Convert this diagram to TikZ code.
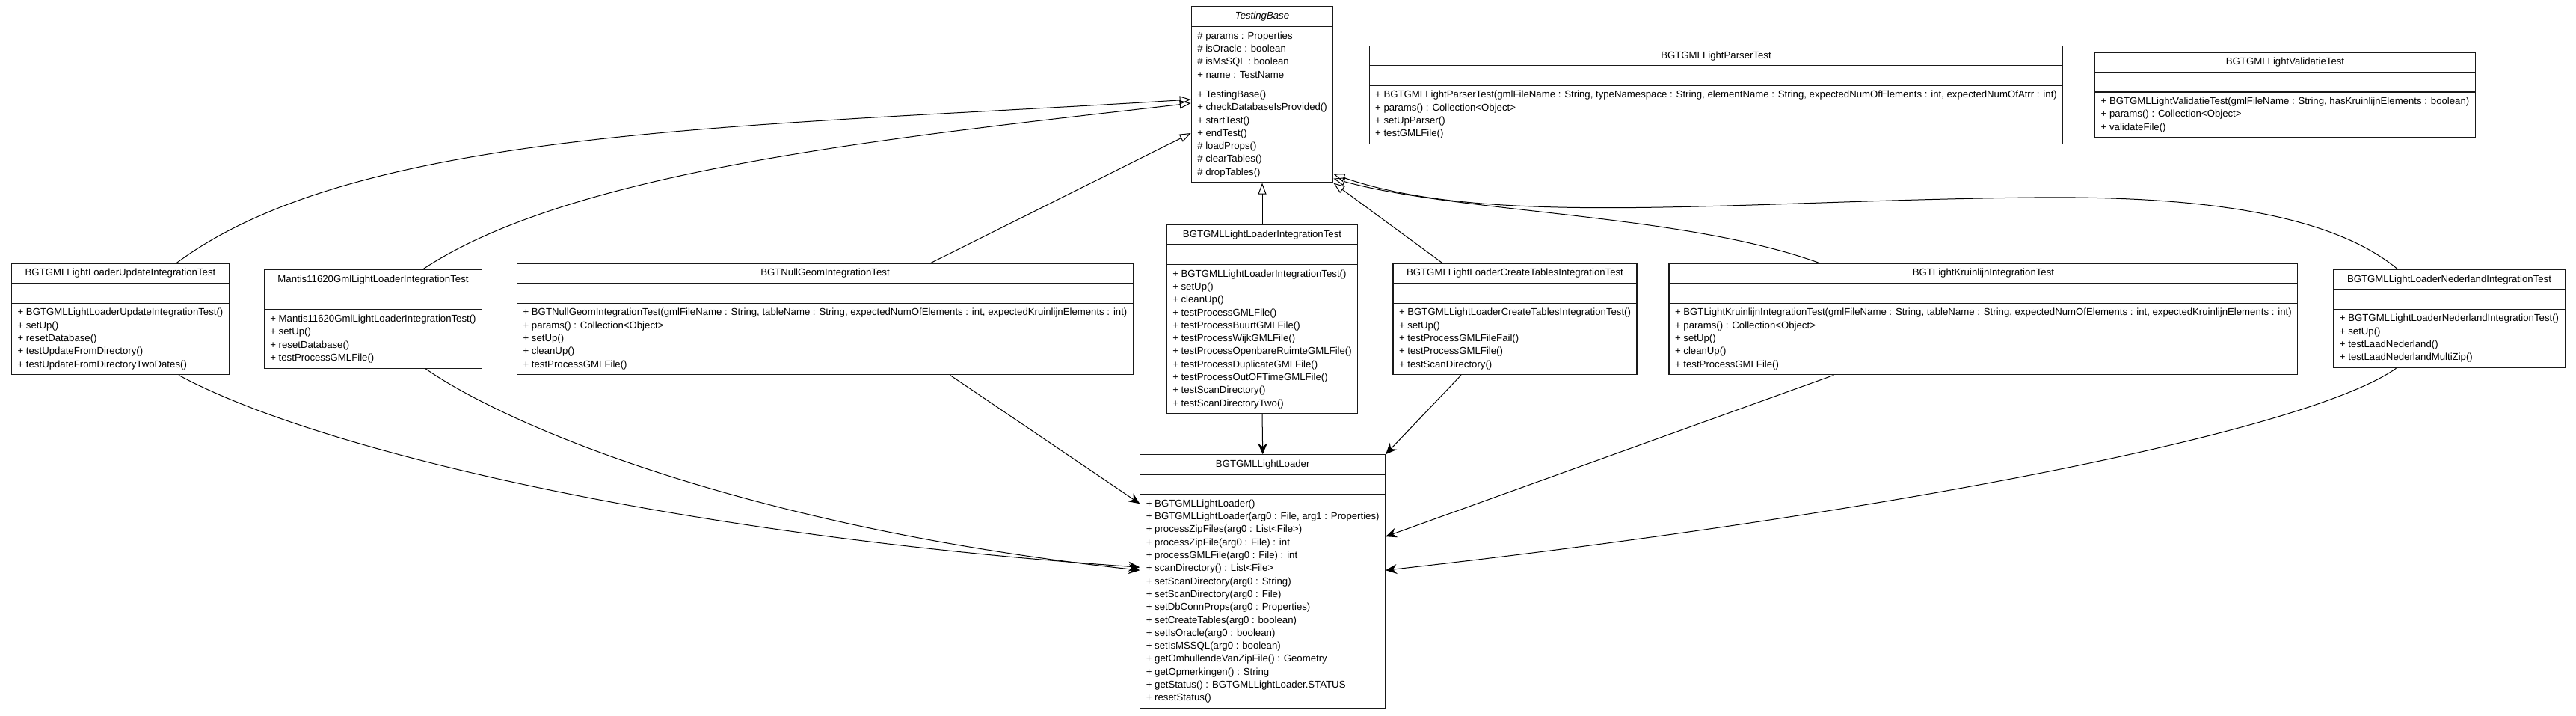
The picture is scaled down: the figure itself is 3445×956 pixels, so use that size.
\documentclass[tikz,border=0pt]{standalone}
\usepackage{fontspec}
\setmainfont{Liberation Sans}
\usetikzlibrary{
  arrows.meta,
  positioning,
  shapes.multipart
}
\definecolor{umlline}{RGB}{25,25,25}
\newcommand{\umlfont}{\fontsize{13.2}{17.3}\selectfont}
\newcommand{\pub}[1]{\strut+ #1}
\newcommand{\prot}[1]{\strut\# #1}

\begin{document}
\begin{tikzpicture}[
  x=1pt, y=-1pt,
  cls/.style={draw=umlline, line width=1.15pt, rectangle split,
              rectangle split parts=3,
              rectangle split part align={center,left,left},
              align=left, inner xsep=8pt, inner ysep=4pt, font=\umlfont},
  gen/.style={-{Triangle[open, length=15pt, width=11pt]}, line width=1pt},
  dep/.style={-{Stealth[length=15pt, width=13pt, inset=5pt]}, line width=1pt}
]
\useasboundingbox (0,0) rectangle (3445,956);

% ── Row 1: base class and stand-alone tests ──
\node[cls] (base) at (1688,126.5) {\strut\textit{TestingBase}
  \nodepart{second}\prot{params : Properties}\\ \prot{isOracle : boolean}\\
    \prot{isMsSQL : boolean}\\ \pub{name : TestName}
  \nodepart{third}\pub{TestingBase()}\\ \pub{checkDatabaseIsProvided()}\\
    \pub{startTest()}\\ \pub{endTest()}\\ \prot{loadProps()}\\
    \prot{clearTables()}\\ \prot{dropTables()}};

\node[cls] (parser) at (2295,127) {\strut BGTGMLLightParserTest
  \nodepart{second}\strut
  \nodepart{third}\pub{BGTGMLLightParserTest(gmlFileName : String, typeNamespace : String, elementName : String, expectedNumOfElements : int, expectedNumOfAtrr : int)}\\
    \pub{params() : Collection<Object>}\\ \pub{setUpParser()}\\ \pub{testGMLFile()}};

\node[cls] (valid) at (3056,127) {\strut BGTGMLLightValidatieTest
  \nodepart{second}\strut
  \nodepart{third}\pub{BGTGMLLightValidatieTest(gmlFileName : String, hasKruinlijnElements : boolean)}\\
    \pub{params() : Collection<Object>}\\ \pub{validateFile()}};

% ── Row 2: integration tests ──
\node[cls] (upd) at (161,426.5) {\strut BGTGMLLightLoaderUpdateIntegrationTest
  \nodepart{second}\strut
  \nodepart{third}\pub{BGTGMLLightLoaderUpdateIntegrationTest()}\\ \pub{setUp()}\\
    \pub{resetDatabase()}\\ \pub{testUpdateFromDirectory()}\\
    \pub{testUpdateFromDirectoryTwoDates()}};

\node[cls] (mantis) at (499,426.5) {\strut Mantis11620GmlLightLoaderIntegrationTest
  \nodepart{second}\strut
  \nodepart{third}\pub{Mantis11620GmlLightLoaderIntegrationTest()}\\ \pub{setUp()}\\
    \pub{resetDatabase()}\\ \pub{testProcessGMLFile()}};

\node[cls] (nullgeom) at (1103.5,426.5) {\strut BGTNullGeomIntegrationTest
  \nodepart{second}\strut
  \nodepart{third}\pub{BGTNullGeomIntegrationTest(gmlFileName : String, tableName : String, expectedNumOfElements : int, expectedKruinlijnElements : int)}\\
    \pub{params() : Collection<Object>}\\ \pub{setUp()}\\ \pub{cleanUp()}\\
    \pub{testProcessGMLFile()}};

\node[cls] (loaderit) at (1688,426.7) {\strut BGTGMLLightLoaderIntegrationTest
  \nodepart{second}\strut
  \nodepart{third}\pub{BGTGMLLightLoaderIntegrationTest()}\\ \pub{setUp()}\\
    \pub{cleanUp()}\\ \pub{testProcessGMLFile()}\\ \pub{testProcessBuurtGMLFile()}\\
    \pub{testProcessWijkGMLFile()}\\ \pub{testProcessOpenbareRuimteGMLFile()}\\
    \pub{testProcessDuplicateGMLFile()}\\ \pub{testProcessOutOFTimeGMLFile()}\\
    \pub{testScanDirectory()}\\ \pub{testScanDirectoryTwo()}};

\node[cls] (create) at (2026,426.5) {\strut BGTGMLLightLoaderCreateTablesIntegrationTest
  \nodepart{second}\strut
  \nodepart{third}\pub{BGTGMLLightLoaderCreateTablesIntegrationTest()}\\ \pub{setUp()}\\
    \pub{testProcessGMLFileFail()}\\ \pub{testProcessGMLFile()}\\
    \pub{testScanDirectory()}};

\node[cls] (kruin) at (2652.4,426.5) {\strut BGTLightKruinlijnIntegrationTest
  \nodepart{second}\strut
  \nodepart{third}\pub{BGTLightKruinlijnIntegrationTest(gmlFileName : String, tableName : String, expectedNumOfElements : int, expectedKruinlijnElements : int)}\\
    \pub{params() : Collection<Object>}\\ \pub{setUp()}\\ \pub{cleanUp()}\\
    \pub{testProcessGMLFile()}};

\node[cls] (nl) at (3275.5,426) {\strut BGTGMLLightLoaderNederlandIntegrationTest
  \nodepart{second}\strut
  \nodepart{third}\pub{BGTGMLLightLoaderNederlandIntegrationTest()}\\ \pub{setUp()}\\
    \pub{testLaadNederland()}\\ \pub{testLaadNederlandMultiZip()}};

% ── Row 3: class under test ──
\node[cls] (loader) at (1688.7,777.2) {\strut BGTGMLLightLoader
  \nodepart{second}\strut
  \nodepart{third}\pub{BGTGMLLightLoader()}\\
    \pub{BGTGMLLightLoader(arg0 : File, arg1 : Properties)}\\
    \pub{processZipFiles(arg0 : List<File>)}\\ \pub{processZipFile(arg0 : File) : int}\\
    \pub{processGMLFile(arg0 : File) : int}\\ \pub{scanDirectory() : List<File>}\\
    \pub{setScanDirectory(arg0 : String)}\\ \pub{setScanDirectory(arg0 : File)}\\
    \pub{setDbConnProps(arg0 : Properties)}\\ \pub{setCreateTables(arg0 : boolean)}\\
    \pub{setIsOracle(arg0 : boolean)}\\ \pub{setIsMSSQL(arg0 : boolean)}\\
    \pub{getOmhullendeVanZipFile() : Geometry}\\ \pub{getOpmerkingen() : String}\\
    \pub{getStatus() : BGTGMLLightLoader.STATUS}\\ \pub{resetStatus()}};

% ── Generalisations ──
\draw[gen] ([xshift=75pt]upd.north) .. controls (480,170) and (1000,170) .. ([yshift=-6.5pt]base.west);
\draw[gen] ([xshift=66pt]mantis.north) .. controls (765,227) and (1192,184) .. ([yshift=-11.5pt]base.west);
\draw[gen] ([xshift=141pt]nullgeom.north) -- ([yshift=-51.5pt]base.west);
\draw[gen] (loaderit.north) -- (base.south);
\draw[gen] ([xshift=-97pt]create.north) -- (base.south east);
\draw[gen] ([xshift=-219pt]kruin.north) .. controls (2250,285) and (1950,285) .. ([yshift=6pt]base.south east);
\draw[gen] ([xshift=-69pt]nl.north) .. controls (3110,280) and (2920,262) .. (2720,264)
  .. controls (2320,268) and (1990,305) .. ([yshift=12pt]base.south east);

% ── Dependencies ──
\draw[dep] ([xshift=78pt]upd.south) .. controls (420,600) and (900,715) .. ([yshift=19pt]loader.west);
\draw[dep] ([xshift=70pt]mantis.south) .. controls (680,570) and (1000,705) .. ([yshift=15pt]loader.west);
\draw[dep] ([xshift=167pt]nullgeom.south) -- ([yshift=104pt]loader.west);
\draw[dep] (loaderit.south) -- (loader.north);
\draw[dep] ([xshift=-72pt]create.south) -- (loader.north east);
\draw[dep] ([xshift=-200pt]kruin.south) -- ([yshift=60pt]loader.east);
\draw[dep] ([xshift=-71pt]nl.south) .. controls (3080,580) and (2500,690) .. ([yshift=15pt]loader.east);

\end{tikzpicture}
\end{document}
